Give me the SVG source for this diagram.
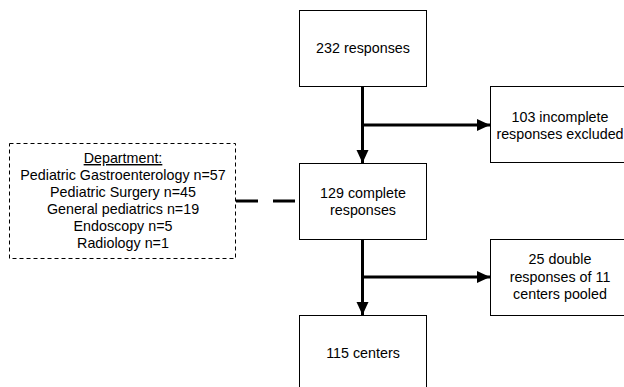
<svg xmlns="http://www.w3.org/2000/svg" width="624" height="387" viewBox="0 0 624 387">
<style>
.box{fill:#fff;stroke:#000;stroke-width:1}
.dbox{fill:#fff;stroke:#000;stroke-width:1;stroke-dasharray:4,3}
text{font-family:"Liberation Sans",Arial,sans-serif;font-size:14.3px;fill:#000;text-anchor:middle}
.edge{stroke:#000;stroke-width:3;fill:none}
</style>
<defs>
<marker id="ah" markerUnits="userSpaceOnUse" markerWidth="14" markerHeight="14" viewBox="0 0 14 14" refX="13" refY="7" orient="auto">
<path d="M0,1 L13,7 L0,13 Z" fill="#000"/>
</marker>
</defs>
<rect width="624" height="387" fill="#fff"/>
<g id="connectors">
<line class="edge" x1="362.5" y1="86" x2="362.5" y2="163" marker-end="url(#ah)"/>
<line class="edge" x1="362.5" y1="125" x2="490" y2="125" marker-end="url(#ah)"/>
<line class="edge" x1="362.5" y1="239" x2="362.5" y2="315" marker-end="url(#ah)"/>
<line class="edge" x1="362.5" y1="277" x2="490" y2="277" marker-end="url(#ah)"/>
<line class="edge" x1="236" y1="201" x2="300" y2="201" stroke-dasharray="22,15"/>
</g>
<g id="n232">
<rect class="box" x="299.5" y="10.5" width="127" height="76"/>
<text x="363" y="53">232 responses</text>
</g>
<g id="n103">
<rect class="box" x="490.5" y="86.5" width="140" height="76"/>
<text x="560" y="121.5">103 incomplete</text>
<text x="560" y="138.5">responses excluded</text>
</g>
<g id="n129">
<rect class="box" x="299.5" y="163.5" width="127" height="76"/>
<text x="363" y="197.5">129 complete</text>
<text x="363" y="214.5">responses</text>
</g>
<g id="n25">
<rect class="box" x="490.5" y="239.5" width="140" height="76"/>
<text x="560" y="264">25 double</text>
<text x="560" y="281.5">responses of 11</text>
<text x="560" y="298.5">centers pooled</text>
</g>
<g id="n115">
<rect class="box" x="299.5" y="315.5" width="127" height="76"/>
<text x="363" y="358">115 centers</text>
</g>
<g id="department">
<rect class="dbox" x="9.5" y="143.5" width="226" height="115"/>
<text x="123" y="163" text-decoration="underline">Department:</text>
<text x="123" y="180">Pediatric Gastroenterology n=57</text>
<text x="123" y="197">Pediatric Surgery n=45</text>
<text x="123" y="214">General pediatrics n=19</text>
<text x="123" y="231">Endoscopy n=5</text>
<text x="123" y="248">Radiology n=1</text>
</g>
</svg>
